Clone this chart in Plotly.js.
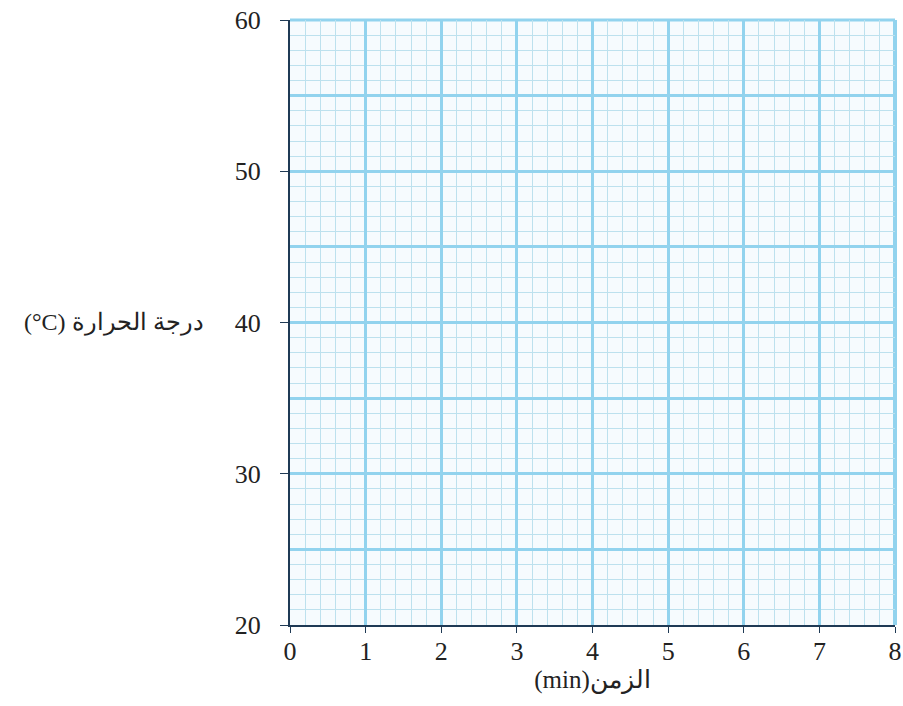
<!DOCTYPE html>
<html>
<head>
<meta charset="utf-8">
<script src="https://cdn.plot.ly/plotly-3.0.1.min.js"></script>
<style>html,body{margin:0;padding:0;background:#fff;}#chart{width:903px;height:706px;}</style>
</head>
<body>
<div id="chart"></div>
<script>
// Blank graph paper: time (min) vs temperature (°C)
const timeTicks = [0, 1, 2, 3, 4, 5, 6, 7, 8];
const tempTicks = [20, 30, 40, 50, 60];
const timeRange = [0, 8];
const tempRange = [20, 60];
const xTitle = "(min)الزمن";
const yTitle = "(°C) درجة الحرارة";

const serif = "Liberation Serif, Times New Roman, DejaVu Serif, serif";
const major = "#92d3ee";
const minorC = "#bde1ee";
const axisC = "#1f3a55";
const textC = "#222222";

const data = [{type: "scatter", mode: "markers", x: [], y: [], showlegend: false, hoverinfo: "skip"}];
data.push({type: "scatter", mode: "markers", x: [], y: [], yaxis: "y2", showlegend: false, hoverinfo: "skip"});

const layout = {
  width: 903, height: 706,
  margin: {l: 290, r: 8, t: 20, b: 81},
  paper_bgcolor: "#ffffff",
  plot_bgcolor: "#f6fbfe",
  showlegend: false,
  font: {family: serif, size: 24, color: textC},
  xaxis: {
    range: timeRange, tickvals: timeTicks, ticktext: timeTicks.map(String),
    showgrid: true, gridcolor: major, gridwidth: 3,
    minor: {dtick: 0.2, showgrid: true, gridcolor: minorC, gridwidth: 1},
    showline: true, linecolor: axisC, linewidth: 2,
    ticks: "outside", ticklen: 6, tickcolor: axisC, tickwidth: 1,
    ticklabelstandoff: -4,
    zeroline: false, fixedrange: true,
    tickfont: {family: serif, size: 26, color: textC},
    title: {text: xTitle, font: {family: serif, size: 25, color: textC}, standoff: 2}
  },
  yaxis: {
    range: tempRange, tickvals: tempTicks, ticktext: tempTicks.map(String),
    showgrid: true, gridcolor: major, gridwidth: 3,
    minor: {dtick: 1, showgrid: true, gridcolor: minorC, gridwidth: 1},
    showline: true, linecolor: axisC, linewidth: 2,
    ticks: "outside", ticklen: 8, tickcolor: axisC, tickwidth: 1,
    ticklabelstandoff: 14,
    zeroline: false, fixedrange: true,
    tickfont: {family: serif, size: 26, color: textC}
  },
  yaxis2: {
    overlaying: "y", range: tempRange, dtick: 5, tick0: 20,
    showgrid: true, gridcolor: major, gridwidth: 3,
    showticklabels: false, ticks: "", showline: false, zeroline: false, fixedrange: true
  },
  shapes: [
    {type: "line", xref: "paper", yref: "paper", x0: 0, x1: 1, y0: 1, y1: 1, line: {color: major, width: 3}, layer: "below"},
    {type: "line", xref: "paper", yref: "paper", x0: 1, x1: 1, y0: 0, y1: 1, line: {color: major, width: 4}, layer: "below"}
  ],
  annotations: [{
    xref: "paper", yref: "y", x: 0, y: 40, xanchor: "right", yanchor: "middle",
    xshift: -84, showarrow: false, text: yTitle,
    font: {family: serif, size: 24, color: textC}
  }]
};

Plotly.newPlot("chart", data, layout, {staticPlot: true, displayModeBar: false});
</script>
</body>
</html>
